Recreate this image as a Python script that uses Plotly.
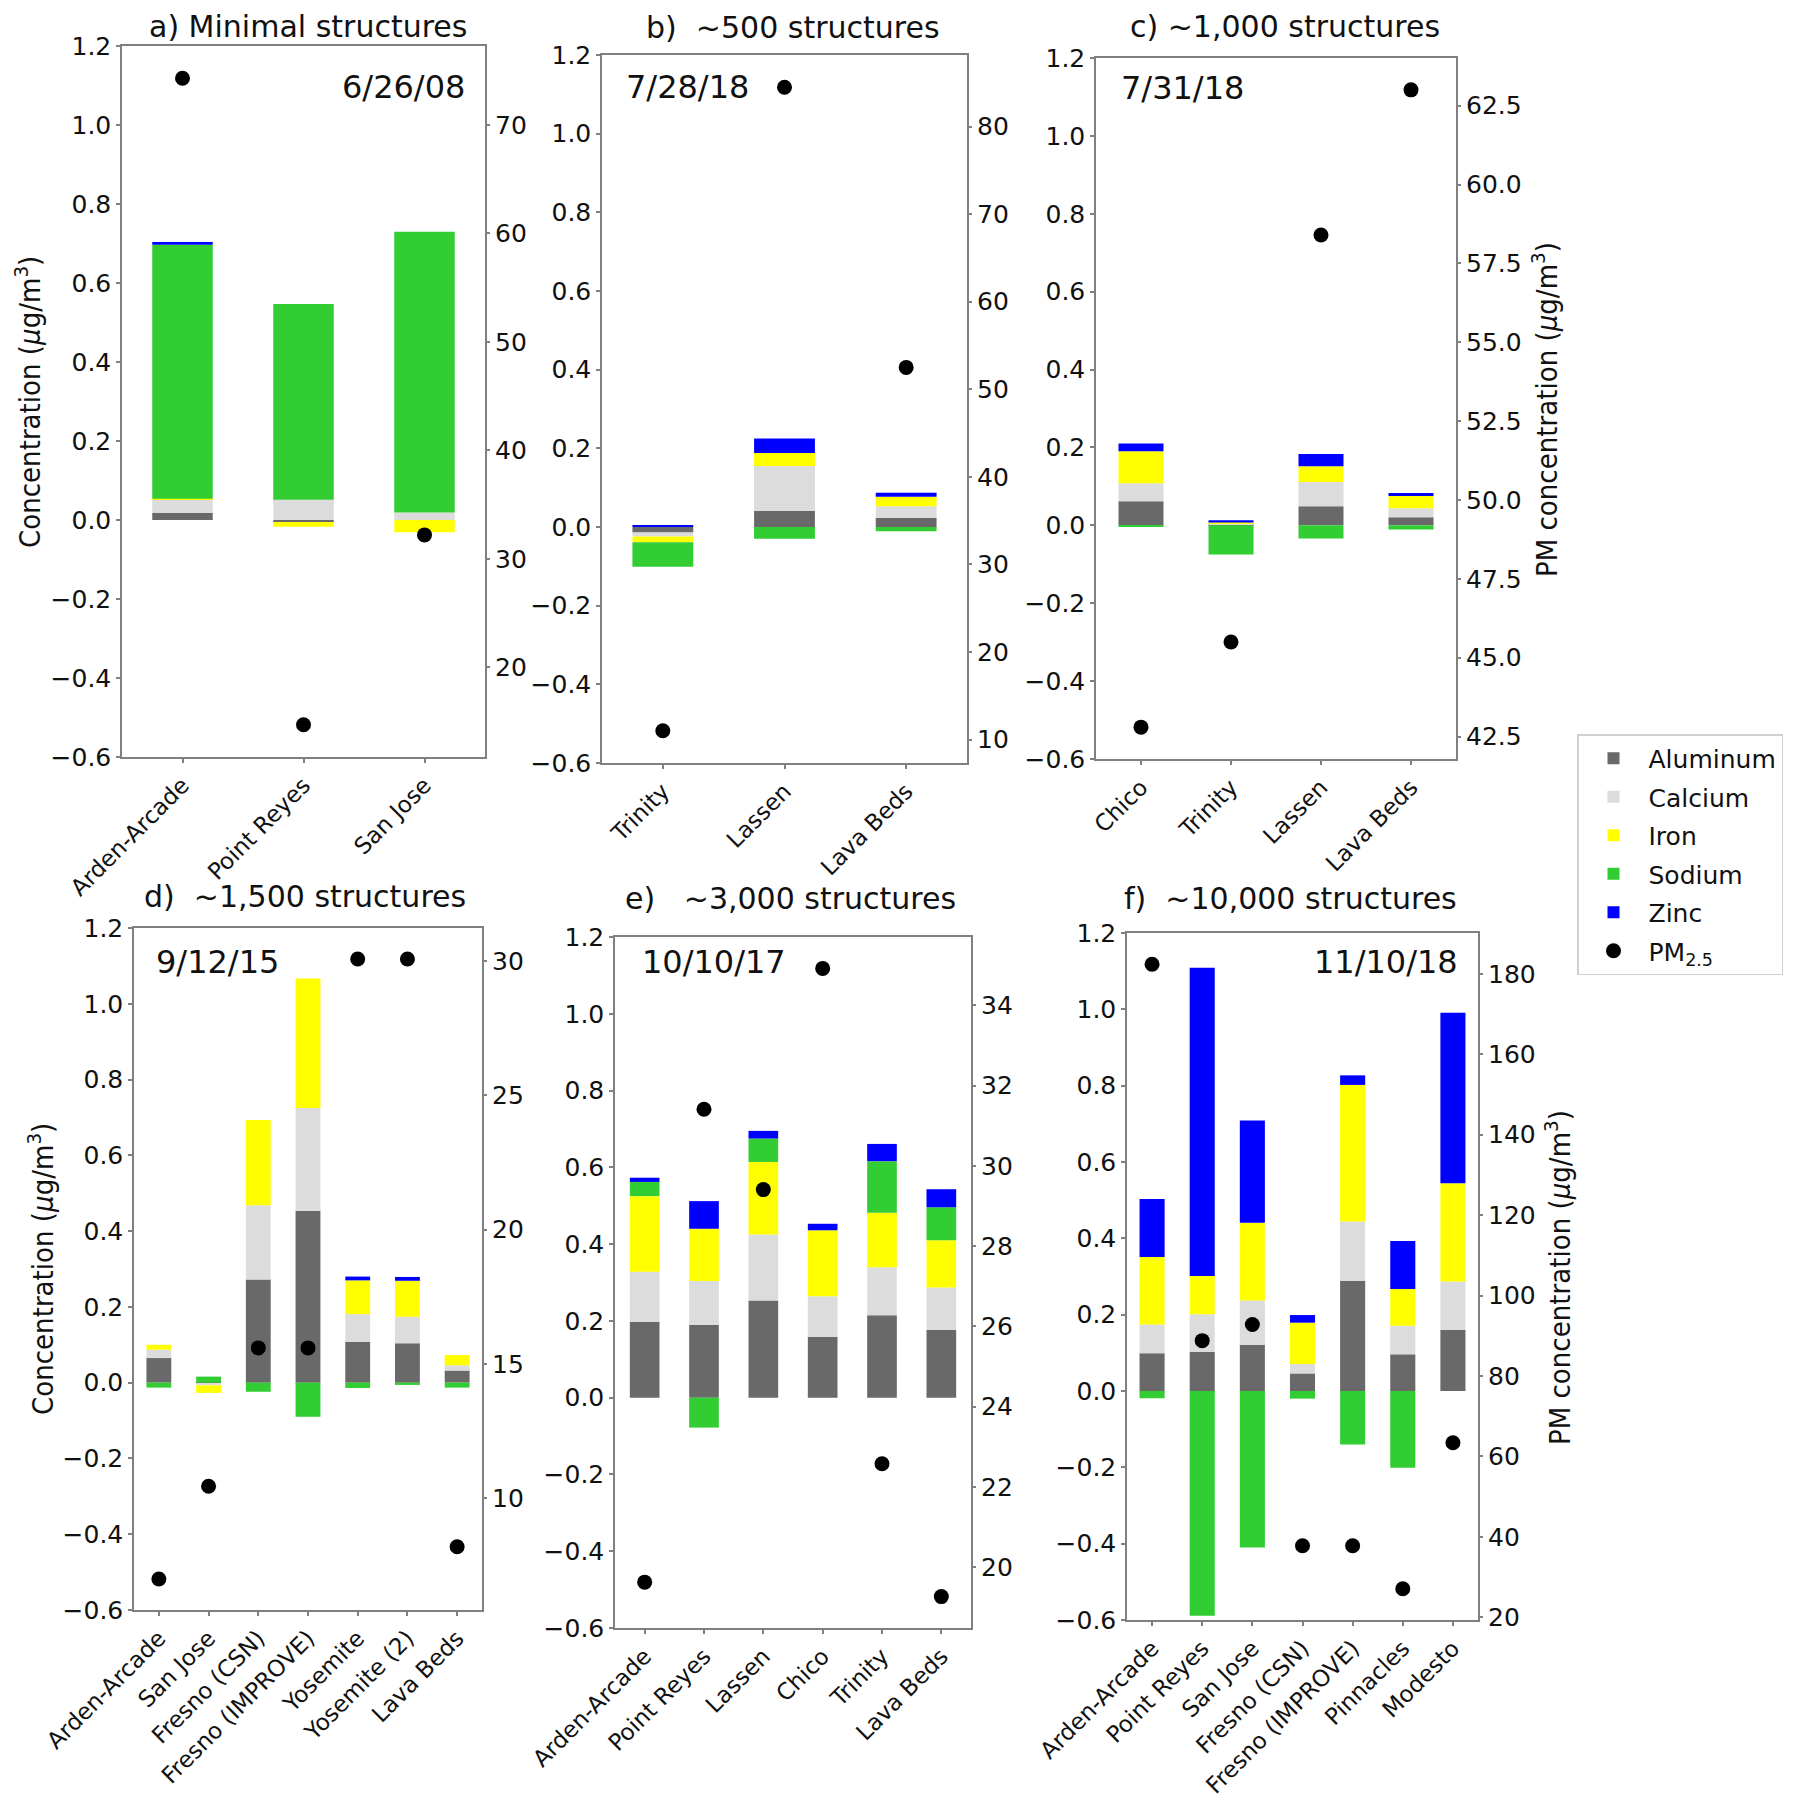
import plotly.graph_objects as go

# ---- data ----
elements = ["Aluminum", "Calcium", "Iron", "Sodium", "Zinc"]
colors = ["#696969", "#dcdcdc", "#ffff00", "#32cd32", "#0000ff"]

sites_a = ["Arden-Arcade", "Point Reyes", "San Jose"]
al_a = [0.018, -0.005, 0.0]
ca_a = [0.033, 0.051, 0.019]
fe_a = [0.003, -0.012, -0.031]
na_a = [0.643, 0.496, 0.711]
zn_a = [0.007, 0.0, 0.0]
pm_a = [74.3, 14.7, 32.2]

sites_b = ["Trinity", "Lassen", "Lava Beds"]
al_b = [-0.014, 0.041, 0.023]
ca_b = [-0.010, 0.114, 0.030]
fe_b = [-0.015, 0.033, 0.024]
na_b = [-0.062, -0.030, -0.011]
zn_b = [0.004, 0.037, 0.010]
pm_b = [11.0, 84.5, 52.5]

sites_c = ["Chico", "Trinity", "Lassen", "Lava Beds"]
al_c = [0.062, 0.002, 0.049, 0.021]
ca_c = [0.046, 0.003, 0.062, 0.023]
fe_c = [0.082, 0.002, 0.041, 0.031]
na_c = [-0.002, -0.075, -0.034, -0.011]
zn_c = [0.020, 0.006, 0.031, 0.008]
pm_c = [42.8, 45.5, 58.4, 63.0]

sites_d = ["Arden-Arcade", "San Jose", "Fresno (CSN)", "Fresno (IMPROVE)",
           "Yosemite", "Yosemite (2)", "Lava Beds"]
al_d = [0.065, -0.003, 0.272, 0.454, 0.108, 0.104, 0.032]
ca_d = [0.022, -0.004, 0.196, 0.271, 0.073, 0.070, 0.014]
fe_d = [0.013, -0.020, 0.225, 0.342, 0.089, 0.095, 0.027]
na_d = [-0.013, 0.016, -0.024, -0.090, -0.014, -0.006, -0.013]
zn_d = [0.0, 0.0, 0.0, 0.0, 0.010, 0.010, 0.0]
pm_d = [7.0, 10.45, 15.6, 15.6, 30.07, 30.07, 8.2]

sites_e = ["Arden-Arcade", "Point Reyes", "Lassen", "Chico", "Trinity", "Lava Beds"]
al_e = [0.197, 0.190, 0.253, 0.158, 0.215, 0.176]
ca_e = [0.131, 0.114, 0.172, 0.106, 0.125, 0.111]
fe_e = [0.197, 0.136, 0.189, 0.172, 0.142, 0.123]
na_e = [0.037, -0.078, 0.061, 0.0, 0.134, 0.086]
zn_e = [0.011, 0.072, 0.020, 0.017, 0.045, 0.047]
pm_e = [19.63, 31.41, 29.41, 34.92, 22.58, 19.27]

sites_f = ["Arden-Arcade", "Point Reyes", "San Jose", "Fresno (CSN)",
           "Fresno (IMPROVE)", "Pinnacles", "Modesto"]
al_f = [0.099, 0.102, 0.121, 0.046, 0.289, 0.096, 0.160]
ca_f = [0.075, 0.099, 0.116, 0.025, 0.155, 0.075, 0.127]
fe_f = [0.177, 0.100, 0.204, 0.108, 0.358, 0.096, 0.257]
na_f = [-0.019, -0.589, -0.410, -0.020, -0.140, -0.201, 0.0]
zn_f = [0.152, 0.808, 0.268, 0.020, 0.025, 0.126, 0.447]
pm_f = [182.4, 88.8, 92.8, 37.8, 37.8, 27.1, 63.4]

titles = ["a) Minimal structures", "b)\u00a0\u00a0~500 structures", "c) ~1,000 structures",
          "d)\u00a0\u00a0~1,500 structures", "e)\u00a0\u00a0\u00a0~3,000 structures",
          "f)\u00a0\u00a0~10,000 structures"]
dates = ["6/26/08", "7/28/18", "7/31/18", "9/12/15", "10/10/17", "11/10/18"]
right_dtick = [10, 10, 2.5, 5, 2, 20]
right_fmt = ["d", "d", ".1f", "d", "d", "d"]

panels = [
    (sites_a, [al_a, ca_a, fe_a, na_a, zn_a], pm_a),
    (sites_b, [al_b, ca_b, fe_b, na_b, zn_b], pm_b),
    (sites_c, [al_c, ca_c, fe_c, na_c, zn_c], pm_c),
    (sites_d, [al_d, ca_d, fe_d, na_d, zn_d], pm_d),
    (sites_e, [al_e, ca_e, fe_e, na_e, zn_e], pm_e),
    (sites_f, [al_f, ca_f, fe_f, na_f, zn_f], pm_f),
]

# ---- layout geometry (pixels in 1800x1800 canvas) ----
W = H = 1800
boxes = [(114, 477, 38, 749), (594, 959, 47, 755), (1088, 1448, 50, 751),
         (126, 474, 920, 1602), (607, 963, 929, 1620), (1119, 1470, 925, 1612)]
date_pos = [(459, 79, "right"), (616, 79, "left"), (1111, 80, "left"),
            (146, 954, "left"), (632, 954, "left"), (1452, 954, "right")]
title_pos = [(300, 18), (785, 20), (1277, 19), (297, 888), (782, 890), (1282, 890)]

spine = "#808080"
font = "DejaVu Sans"

fig = go.Figure()
layout = dict(
    width=W, height=H, margin=dict(l=0, r=0, t=0, b=0, autoexpand=False),
    paper_bgcolor="white", plot_bgcolor="white",
    barmode="relative", bargap=0.5,
    font=dict(family=font, size=25, color="#111"),
    showlegend=True,
    legend=dict(x=1569 / W, y=1 - 726 / H, xanchor="left", yanchor="top",
                bgcolor="white", bordercolor="#d0d0d0", borderwidth=1.5,
                font=dict(size=25), traceorder="grouped", tracegroupgap=3,
                itemwidth=60),
)
annotations = []

for i, (sites, vals, pm) in enumerate(panels, start=1):
    xs = "" if i == 1 else str(i)
    for name, col, v in zip(elements, colors, vals):
        fig.add_trace(go.Bar(x=sites, y=v, name=name, marker_color=col,
                             marker_line_width=0, width=0.5,
                             xaxis="x" + xs, yaxis="y" + xs,
                             legendgroup=name, showlegend=(i == 1)))
    fig.add_trace(go.Scatter(x=sites, y=pm, mode="markers", name="PM<sub>2.5</sub>",
                             marker=dict(color="black", size=15),
                             xaxis="x" + xs, yaxis="y" + str(i + 6),
                             legendgroup="pm", showlegend=(i == 1)))

    l, r, t, b = boxes[i - 1]
    lo, hi = min(pm), max(pm)
    pad = 0.05 * (hi - lo)
    layout["xaxis" + xs] = dict(
        domain=[l / W, r / W], anchor="y" + xs, type="category",
        range=[-0.5, len(sites) - 0.5], showline=True, mirror=True,
        linecolor=spine, linewidth=1.5, ticks="outside", ticklen=4,
        tickcolor=spine, tickwidth=1.5, tickangle=-45, showgrid=False,
        tickfont=dict(size=23), automargin=False)
    layout["yaxis" + xs] = dict(
        domain=[1 - b / H, 1 - t / H], anchor="x" + xs, range=[-0.6, 1.2],
        tick0=0, dtick=0.2, tickformat=".1f", showline=True, mirror=True,
        linecolor=spine, linewidth=1.5, ticks="outside", ticklen=4,
        tickcolor=spine, tickwidth=1.5, showgrid=False, zeroline=False,
        automargin=False)
    layout["yaxis" + str(i + 6)] = dict(
        overlaying="y" + xs, anchor="x" + xs, side="right",
        range=[lo - pad, hi + pad], tick0=0, dtick=right_dtick[i - 1],
        tickformat=right_fmt[i - 1], showline=False, ticks="outside",
        ticklen=4, tickcolor=spine, tickwidth=1.5, showgrid=False,
        zeroline=False, automargin=False)

    tx, ty = title_pos[i - 1]
    annotations.append(dict(text=titles[i - 1], x=tx / W, y=1 - ty / H,
                            xref="paper", yref="paper", showarrow=False,
                            xanchor="center", yanchor="middle",
                            font=dict(size=30, family=font, color="#111")))
    dx, dy, anc = date_pos[i - 1]
    annotations.append(dict(text=dates[i - 1], x=dx / W, y=1 - dy / H,
                            xref="paper", yref="paper", showarrow=False,
                            xanchor=anc, yanchor="middle",
                            font=dict(size=32, family=font, color="#111")))

ytitle = "Concentration (<i>\u03bc</i>g/m<sup>3</sup>)"
pmtitle = "PM concentration (<i>\u03bc</i>g/m<sup>3</sup>)"
narrow = "Liberation Sans Narrow, DejaVu Sans Condensed, sans-serif"
for txt, x, y in [(ytitle, 20, 394), (ytitle, 33, 1261),
                  (pmtitle, 1537, 402), (pmtitle, 1550, 1270)]:
    annotations.append(dict(text=txt, x=x / W, y=1 - y / H, xref="paper",
                            yref="paper", showarrow=False, textangle=-90,
                            xanchor="center", yanchor="middle",
                            font=dict(size=29, family=narrow, color="#111")))

layout["annotations"] = annotations
fig.update_layout(**layout)
fig.write_html("out.html")
